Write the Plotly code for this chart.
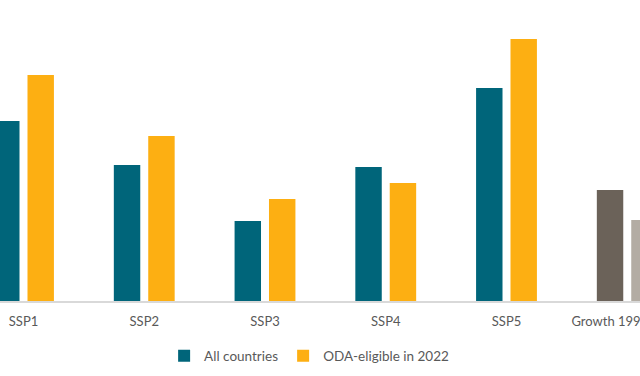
import plotly.graph_objects as go

categories = ["SSP1", "SSP2", "SSP3", "SSP4", "SSP5", "Growth 1990-2019"]
all_countries = [3.60, 2.72, 1.60, 2.68, 4.26, 2.22]
oda_eligible = [4.52, 3.30, 2.04, 2.36, 5.24, 1.62]

teal_colors = ["#00657A"] * 5 + ["#6B6259"]
orange_colors = ["#FDAF12"] * 5 + ["#B3ACA3"]

fig = go.Figure()
fig.add_trace(go.Bar(name="All countries", x=categories, y=all_countries,
                     marker=dict(color=teal_colors, line=dict(width=0))))
fig.add_trace(go.Bar(name="ODA-eligible in 2022", x=categories, y=oda_eligible,
                     marker=dict(color=orange_colors, line=dict(width=0))))

font_family = "Lato, 'Open Sans', sans-serif"
fig.update_layout(
    width=640, height=376,
    margin=dict(l=0, r=0, t=0, b=75),
    paper_bgcolor="white", plot_bgcolor="white",
    barmode="group", bargap=0.43, bargroupgap=0.232,
    font=dict(family=font_family, size=13, color="#595959"),
    showlegend=True,
    legend=dict(orientation="h", x=0.483, xanchor="center", y=-0.183, yanchor="middle",
                font=dict(size=13.5, color="#595959"), itemwidth=30,
                traceorder="normal"),
)
fig.update_xaxes(range=[-0.1946, 5.1056], showline=True, linecolor="#D9D9D9", linewidth=2,
                 showgrid=False, ticks="", automargin=False, tickangle=0,
                 ticklabelstandoff=7,
                 tickfont=dict(size=13, color="#595959"))
fig.update_yaxes(range=[0, 6.02], showgrid=False, zeroline=False, showticklabels=False,
                 showline=False, automargin=False)

fig.write_html("out.html", config={"displayModeBar": False},
               post_script="document.body.style.margin='0';document.body.style.overflow='hidden';")
